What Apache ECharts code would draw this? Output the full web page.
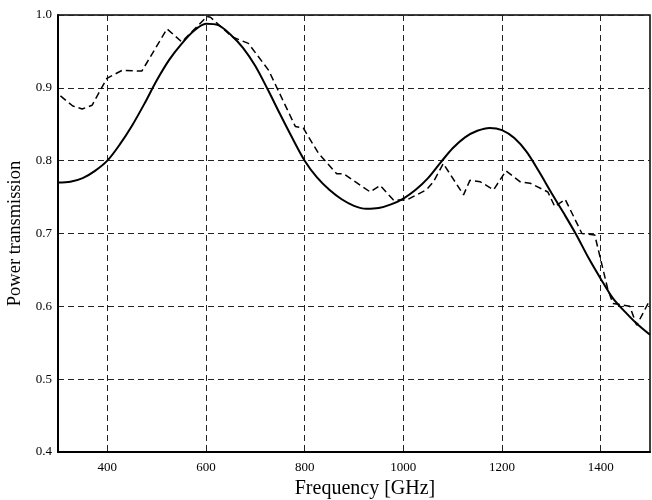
<!DOCTYPE html>
<html>
<head>
<meta charset="utf-8">
<script src="https://cdn.jsdelivr.net/npm/echarts@6/dist/echarts.min.js"></script>
<style>html,body{margin:0;padding:0;background:#fff}#c{width:652px;height:500px}</style>
</head>
<body>
<div id="c"></div>
<script>
// Frequency ticks (GHz)
const xTicks = [400, 600, 800, 1000, 1200, 1400];

// Theory (solid curve)
const theoryFreq = [300, 325, 350, 375, 400, 425, 450, 475, 500, 525, 550, 575, 600, 625, 650, 675, 700, 725, 750, 775, 800, 825, 850, 875, 900, 925, 950, 975, 1000, 1025, 1050, 1075, 1100, 1125, 1150, 1175, 1200, 1225, 1250, 1275, 1300, 1325, 1350, 1375, 1400, 1425, 1450, 1475, 1500];
const theoryVal  = [0.770, 0.771, 0.776, 0.786, 0.800, 0.822, 0.848, 0.878, 0.910, 0.938, 0.960, 0.978, 0.988, 0.986, 0.973, 0.955, 0.930, 0.898, 0.864, 0.831, 0.800, 0.777, 0.760, 0.747, 0.738, 0.734, 0.735, 0.740, 0.748, 0.760, 0.776, 0.797, 0.817, 0.832, 0.841, 0.845, 0.842, 0.831, 0.812, 0.785, 0.756, 0.728, 0.699, 0.667, 0.638, 0.611, 0.592, 0.575, 0.561];

// Measurement (dashed curve)
const measFreq = [305, 330, 349, 369, 399, 430, 470, 521, 551, 602, 609, 653, 686, 727, 781, 797, 828, 865, 879, 933, 953, 980, 1007, 1047, 1061, 1081, 1122, 1135, 1156, 1183, 1208, 1237, 1257, 1293, 1307, 1328, 1362, 1388, 1415, 1425, 1459, 1473, 1500];
const measVal  = [0.889, 0.875, 0.871, 0.876, 0.913, 0.924, 0.923, 0.981, 0.963, 0.998, 0.997, 0.970, 0.961, 0.924, 0.847, 0.845, 0.810, 0.782, 0.782, 0.757, 0.766, 0.746, 0.746, 0.760, 0.771, 0.796, 0.753, 0.773, 0.771, 0.760, 0.786, 0.771, 0.769, 0.757, 0.737, 0.747, 0.700, 0.698, 0.622, 0.604, 0.600, 0.574, 0.609];

const zip = (a, b) => a.map((v, i) => [v, b[i]]);
const font = 'Liberation Serif';

const chart = echarts.init(document.getElementById('c'), null, {renderer: 'canvas'});
chart.setOption({
  animation: false,
  backgroundColor: '#fff',
  grid: {left: 58, right: 2, top: 15, bottom: 48, containLabel: false, outerBoundsMode: 'none', show: true, borderColor: '#000', borderWidth: 1.5, backgroundColor: 'transparent'},
  xAxis: {
    type: 'value', min: 300, max: 1500,
    name: 'Frequency [GHz]', nameLocation: 'middle', nameGap: 21,
    nameTextStyle: {fontFamily: font, fontSize: 20, color: '#000', padding: [0, 0, 0, 22]},
    axisLine: {show: true, lineStyle: {color: '#000', width: 2}},
    axisTick: {show: false, customValues: xTicks},
    axisLabel: {customValues: xTicks, fontFamily: font, fontSize: 13, color: '#000', margin: 9, formatter: v => String(v)},
    splitLine: {show: true, lineStyle: {color: '#222', type: [6, 4], width: 1}}
  },
  yAxis: {
    type: 'value', min: 0.4, max: 1.0, interval: 0.1,
    name: 'Power transmission', nameLocation: 'middle', nameGap: 27,
    nameTextStyle: {fontFamily: font, fontSize: 18.5, color: '#000'},
    axisLine: {show: true, lineStyle: {color: '#000', width: 2}},
    axisTick: {show: false},
    axisLabel: {fontFamily: font, fontSize: 13, color: '#000', margin: 6, formatter: v => v.toFixed(1)},
    splitLine: {show: true, lineStyle: {color: '#222', type: [6, 4], width: 1}}
  },
  series: [
    {type: 'line', data: zip(theoryFreq, theoryVal), smooth: 0.3, showSymbol: false, lineStyle: {color: '#000', width: 2}},
    {type: 'line', data: zip(measFreq, measVal), smooth: false, showSymbol: false, lineStyle: {color: '#000', width: 1.5, type: [7, 4]}}
  ]
});
</script>
</body>
</html>
